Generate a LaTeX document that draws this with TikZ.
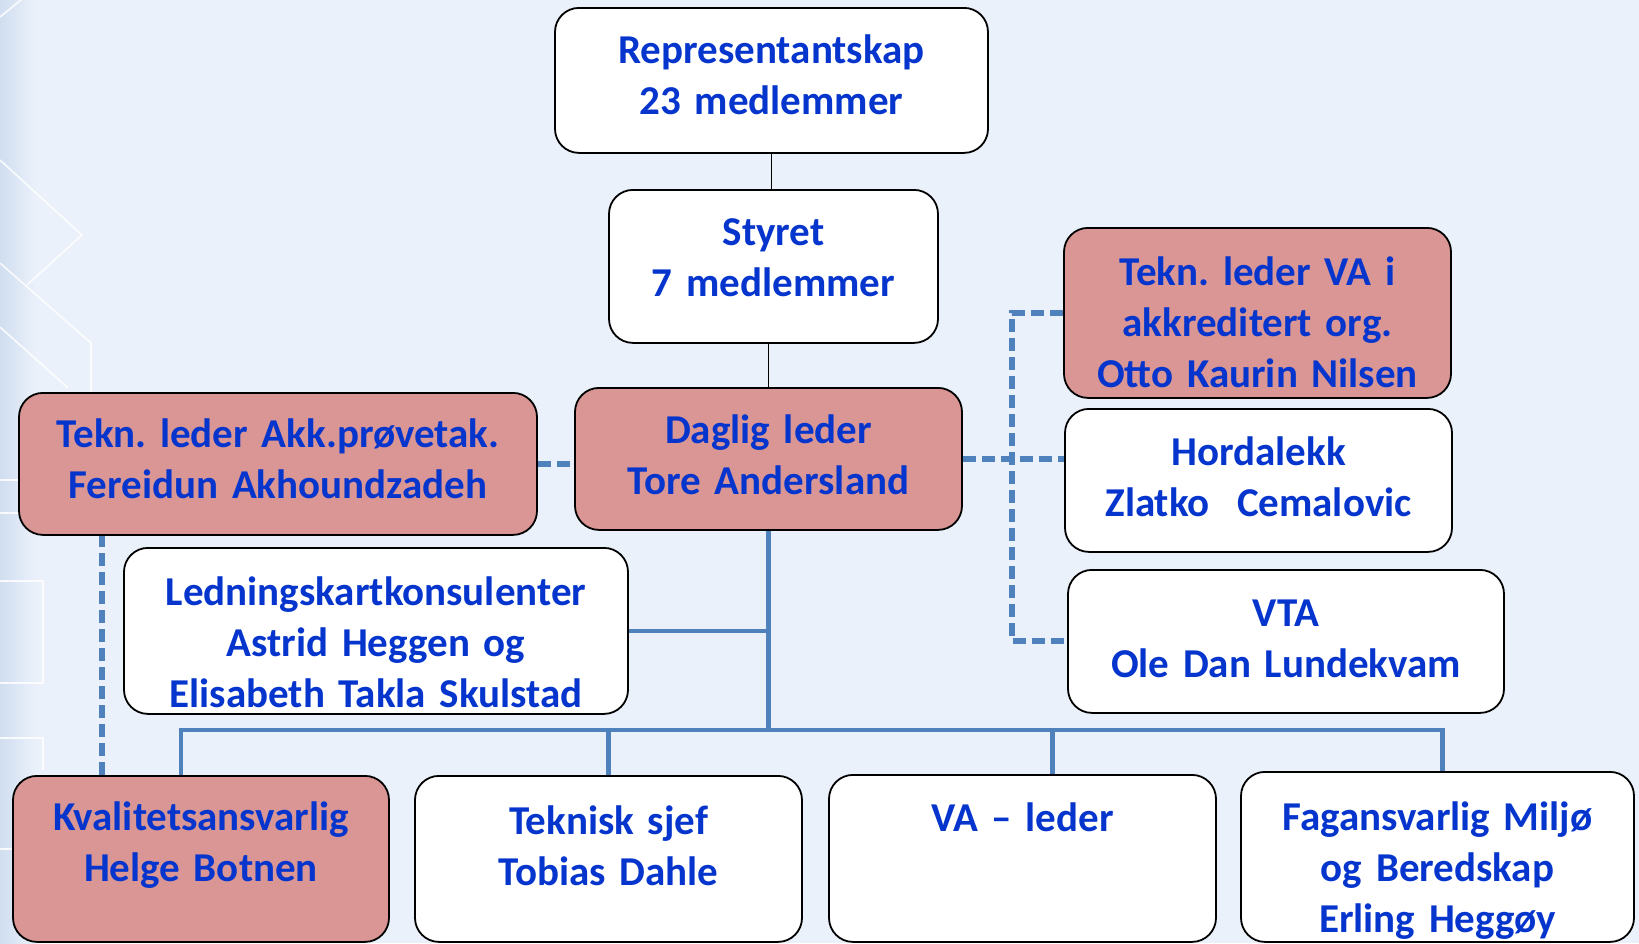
\documentclass[tikz,border=0pt]{standalone}
\usepackage{fontspec}
\setmainfont{Carlito}
\frenchspacing
\definecolor{orgblue}{HTML}{0535CC}
\definecolor{orgpink}{HTML}{D99694}
\definecolor{linkblue}{HTML}{4F81BD}
\definecolor{paper}{HTML}{EBF1FA}
\definecolor{edge}{HTML}{D0DEF0}
\tikzset{
  unit/.style={draw=black, line width=1.8pt, rounded corners=24pt, fill=white,
    text=orgblue, font=\bfseries\fontsize{41}{51}\selectfont, align=center, inner sep=0pt},
  lead/.style={unit, fill=orgpink},
  tie/.style={draw=black, line width=1.6pt},
  feed/.style={draw=linkblue, line width=4.5pt},
  aux/.style={feed, line width=6pt, dash pattern=on 13pt off 6pt},
  deco/.style={draw=white, line width=1.6pt, opacity=.85}
}
% box from left/top/right/bottom, first baseline at #7
\newcommand\OrgUnit[8][unit]{%
  \pgfmathsetmacro\uX{(#3+#5)/2}%
  \pgfmathsetmacro\uW{#5-#3}%
  \pgfmathsetmacro\uH{#7-#4}%
  \pgfmathsetmacro\uD{#6-#7}%
  \node[#1, anchor=north, text width=\uW pt, text height=\uH pt, text depth=\uD pt] (#2) at (\uX,#4) {#8};
}
\begin{document}
\begin{tikzpicture}[x=1pt,y=-1pt]
\fill[paper] (0,0) rectangle (1639,943);
\useasboundingbox (0,0) rectangle (1639,943);
\shade[left color=edge, right color=paper] (0,0) rectangle (36,943);
% background pattern at the left edge
\draw[deco] (0,17) -- (21,0);
\draw[deco] (0,160) -- (82,235) -- (27,285);
\draw[deco] (0,263) -- (91,343) -- (91,392);
\draw[deco] (0,327) -- (68,388);
\foreach \y in {480,513,849} \draw[deco] (0,\y) -- (43,\y);
\draw[deco] (0,581) -| (43,683) -- (0,683);
\draw[deco] (0,738) -| (43,770);

\OrgUnit{rep}{555}{7}{988}{152}{63}{Representantskap\\23 medlemmer}
\OrgUnit{styret}{609}{189}{938}{342}{245}{Styret\\7 medlemmer}
\OrgUnit[lead]{daglig}{575}{387}{962}{529}{443}{Daglig leder\\Tore Andersland}
\OrgUnit[lead]{akk}{19}{392}{537}{534}{447}{Tekn. leder Akk.prøvetak.\\Fereidun Akhoundzadeh}
\OrgUnit[lead]{tekva}{1064}{227}{1451}{397}{285}{Tekn. leder VA i\\akkreditert org.\\Otto Kaurin Nilsen}
\OrgUnit{horda}{1065}{408}{1452}{551}{465}{Hordalekk\\Zlatko\ \ Cemalovic}
\OrgUnit{vta}{1068}{569}{1504}{712}{626}{VTA\\Ole Dan Lundekvam}
\OrgUnit{ledn}{124}{547}{628}{713}{605}{Ledningskartkonsulenter\\Astrid Heggen og\\Elisabeth Takla Skulstad}
\OrgUnit[lead]{kval}{13}{775}{389}{941}{830}{Kvalitetsansvarlig\\Helge Botnen}
\OrgUnit{teksjef}{415}{775}{802}{941}{834}{Teknisk sjef\\Tobias Dahle}
\OrgUnit{valeder}{829}{774}{1216}{941}{831}{VA – leder}
\OrgUnit{fag}{1241}{771}{1634}{941}{830}{Fagansvarlig Miljø\\og Beredskap\\Erling Heggøy}

% board line
\draw[tie] (rep.south) -- (rep.south |- styret.north);
\draw[tie] (daglig.north) -- (daglig.north |- styret.south);
% staff lines
\coordinate (bus) at (768,730);
\draw[feed] (daglig.south) -- (daglig.south |- bus);
\draw[feed] (ledn.east) -- (ledn.east -| daglig.south);
\draw[feed] ([xshift=-20pt]kval.north) |- (bus) -| ([xshift=5pt]fag.north);
\foreach \n/\s in {teksjef/0,valeder/30}
  \draw[feed] ([xshift=\s pt]\n.north) -- ([xshift=\s pt]\n.north |- bus);
% dashed lines
\draw[aux] (akk.east) -- (akk.east -| daglig.west);
\draw[aux] ([xshift=-99pt]kval.north) -- ([xshift=-99pt]kval.north |- akk.south);
\draw[aux] (daglig.east) -- (daglig.east -| horda.west);
\draw[aux] (tekva.west) -- ++(-51,0) |- (vta.west);
\end{tikzpicture}
\end{document}
